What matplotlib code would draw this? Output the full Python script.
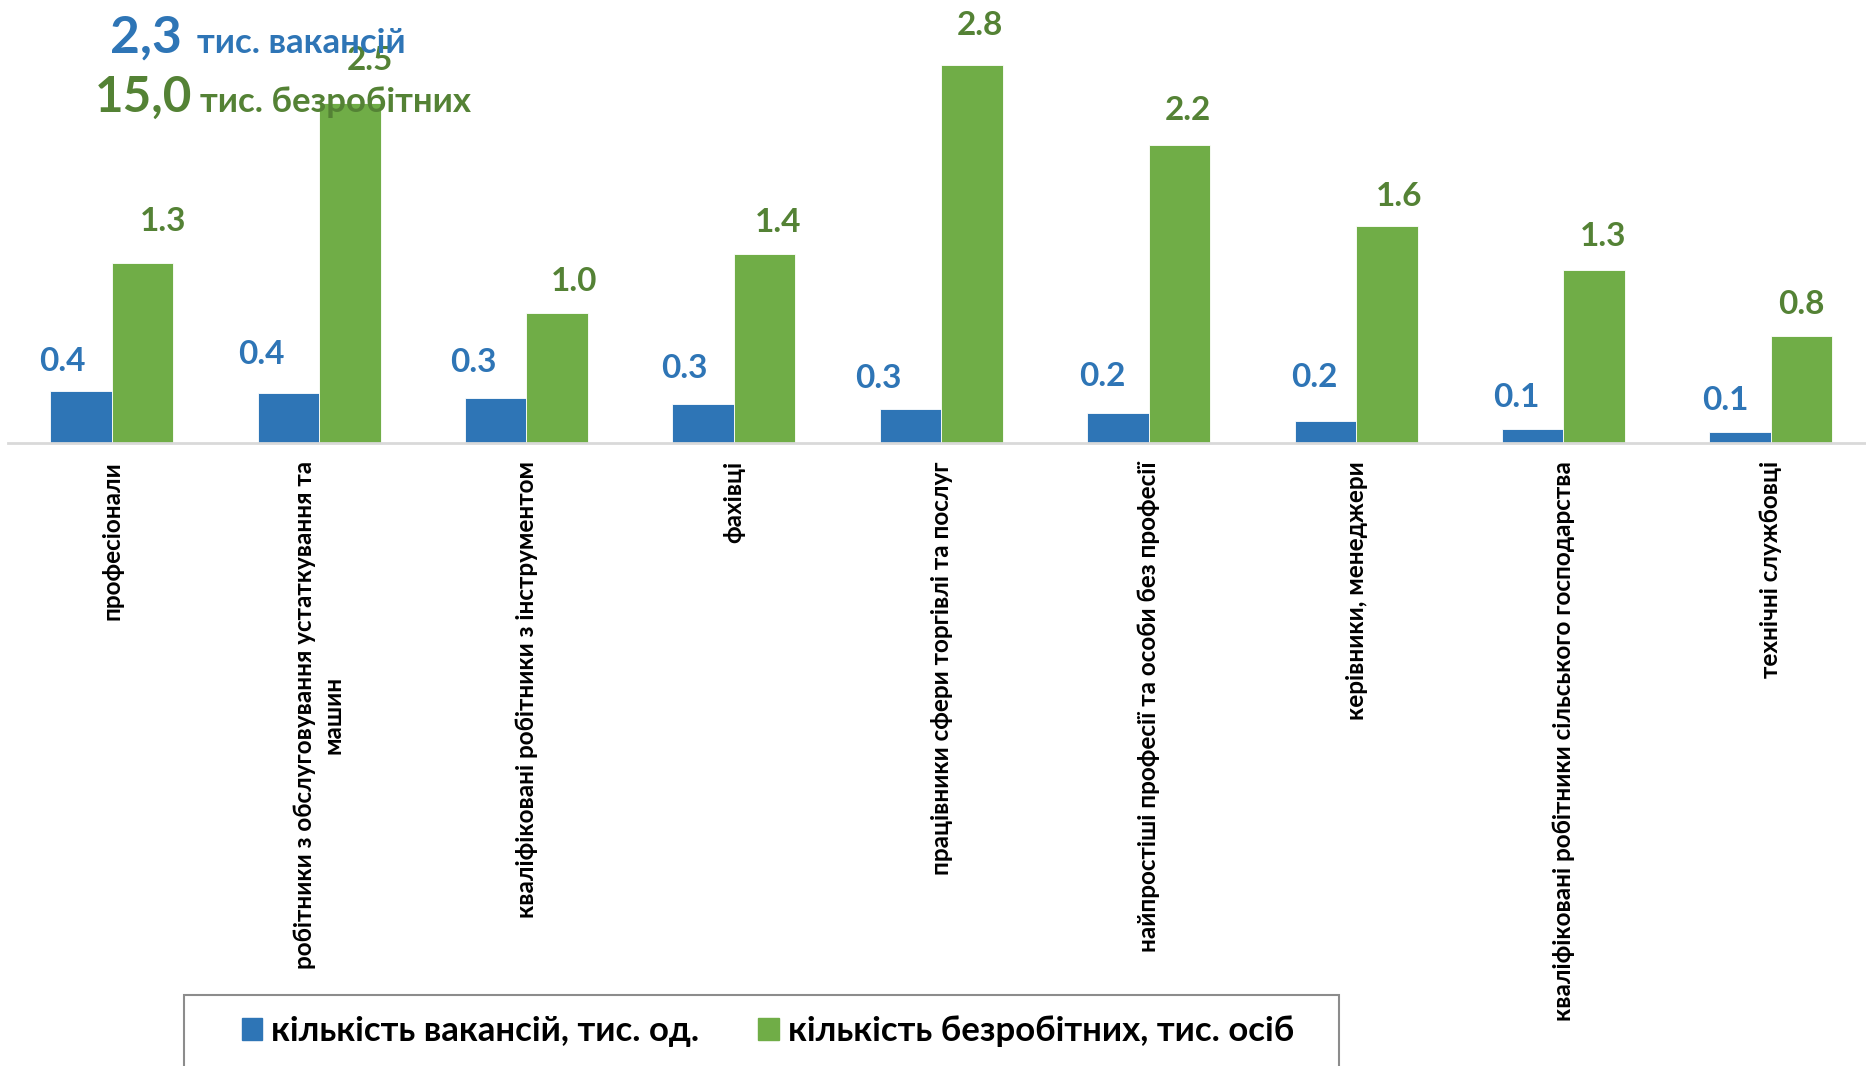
import matplotlib
matplotlib.use("Agg")
import matplotlib.pyplot as plt
from matplotlib.patches import Rectangle, Patch
import numpy as np

categories = [
    "професіонали",
    "робітники з обслуговування устаткування та\nмашин",
    "кваліфіковані робітники з інструментом",
    "фахівці",
    "працівники сфери торгівлі та послуг",
    "найпростіші професії та особи без професії",
    "керівники, менеджери",
    "кваліфіковані робітники сільського господарства",
    "технічні службовці",
]
vacancies = [0.389, 0.375, 0.337, 0.293, 0.255, 0.226, 0.166, 0.106, 0.084]
unemployed = [1.343, 2.530, 0.970, 1.410, 2.817, 2.221, 1.618, 1.290, 0.799]
series_names = ["кількість вакансій, тис. од.", "кількість безробітних, тис. осіб"]
title_vac = ("2,3", "тис. вакансій")
title_unemp = ("15,0", "тис. безробітних")

# manual data-label nudges (pixels, relative to bar centre / bar top)
vac_lbl_dx = [-19, -27, -22, -19, -32, -16, -11, -16, -15]
vac_lbl_dy = [32, 41, 38, 38, 33, 39, 46, 34, 34]
unemp_lbl_dx = [21, 20, 17, 14, 8, 8, 12, 9, 0]
unemp_lbl_dy = [44, 45, 34, 34, 42, 37, 32, 36, 34]

BLUE = "#2E75B6"
GREEN = "#70AD47"
BLUE_TXT = "#2E75B6"
GREEN_TXT = "#548235"
FONT = ["Lato", "DejaVu Sans"]
plt.rcParams["font.family"] = FONT

W, H = 1866, 1066
fig = plt.figure(figsize=(W / 100, H / 100), dpi=100)

def px_to_fig(x, y):
    return x / W, 1 - y / H

ax_left, ax_right, ax_top, ax_bot = 8, 1866, 0, 443
ax = fig.add_axes([ax_left / W, 1 - ax_bot / H, (ax_right - ax_left) / W, (ax_bot - ax_top) / H])

x = np.arange(len(categories))
bw = 0.2965
ax.bar(x - bw / 2, vacancies, bw, color=BLUE, edgecolor="white", linewidth=0.6)
ax.bar(x + bw / 2, unemployed, bw, color=GREEN, edgecolor="white", linewidth=0.6)

ax.set_xlim(-0.5, 8.459)
ax.set_ylim(0, 443 / 134.3)
for s in ["top", "right", "left"]:
    ax.spines[s].set_visible(False)
ax.spines["bottom"].set_color("#d9d9d9")
ax.spines["bottom"].set_linewidth(2)
ax.set_yticks([])
ax.set_xticks(x)
ax.set_xticklabels(categories, rotation=90, fontsize=17.5, fontweight="bold",
                   ha="center", va="top", multialignment="center", linespacing=1.3)
ax.tick_params(axis="x", length=0, pad=13)

CAP = 12  # half the digit height in pixels: centre -> baseline
for xi, v, dx, dy in zip(x, vacancies, vac_lbl_dx, vac_lbl_dy):
    ax.annotate(f"{v:.1f}", (xi - bw / 2, v), xytext=(dx, dy - CAP), textcoords="offset pixels",
                ha="center", va="baseline", fontsize=24, fontweight="bold", color=BLUE_TXT)
for xi, v, dx, dy in zip(x, unemployed, unemp_lbl_dx, unemp_lbl_dy):
    ax.annotate(f"{v:.1f}", (xi + bw / 2, v), xytext=(dx, dy - CAP), textcoords="offset pixels",
                ha="center", va="baseline", fontsize=24, fontweight="bold", color=GREEN_TXT)

# headline texts
fx, fy = px_to_fig(110, 53)
fig.text(fx, fy, title_vac[0], fontsize=37, fontweight="bold", color=BLUE_TXT, va="baseline", ha="left", zorder=10)
fx, fy = px_to_fig(197, 53)
fig.text(fx, fy, title_vac[1], fontsize=25, fontweight="bold", color=BLUE_TXT, va="baseline", ha="left", zorder=10)
fx, fy = px_to_fig(95, 112)
fig.text(fx, fy, title_unemp[0], fontsize=35.5, fontweight="bold", color=GREEN_TXT, va="baseline", ha="left", zorder=10)
fx, fy = px_to_fig(200, 112)
fig.text(fx, fy, title_unemp[1], fontsize=25, fontweight="bold", color=GREEN_TXT, va="baseline", ha="left", zorder=10)

# legend frame
x0, y0 = px_to_fig(184, 995)
x1, _ = px_to_fig(1339, 995)
fig.patches.append(Rectangle((x0, -0.05), x1 - x0, y0 + 0.05, transform=fig.transFigure,
                             fill=False, edgecolor="#8c8c8c", linewidth=1.5))
handles = [Patch(color=BLUE), Patch(color=GREEN)]
lx, ly = px_to_fig(768, 1031)
fig.legend(handles, series_names, loc="center", bbox_to_anchor=(lx, ly), ncol=2, frameon=False,
           prop={"family": FONT, "weight": "bold", "size": 25}, handlelength=0.58, handleheight=0.58,
           handletextpad=0.27, columnspacing=1.7)

fig.savefig("out.png", dpi=100)
